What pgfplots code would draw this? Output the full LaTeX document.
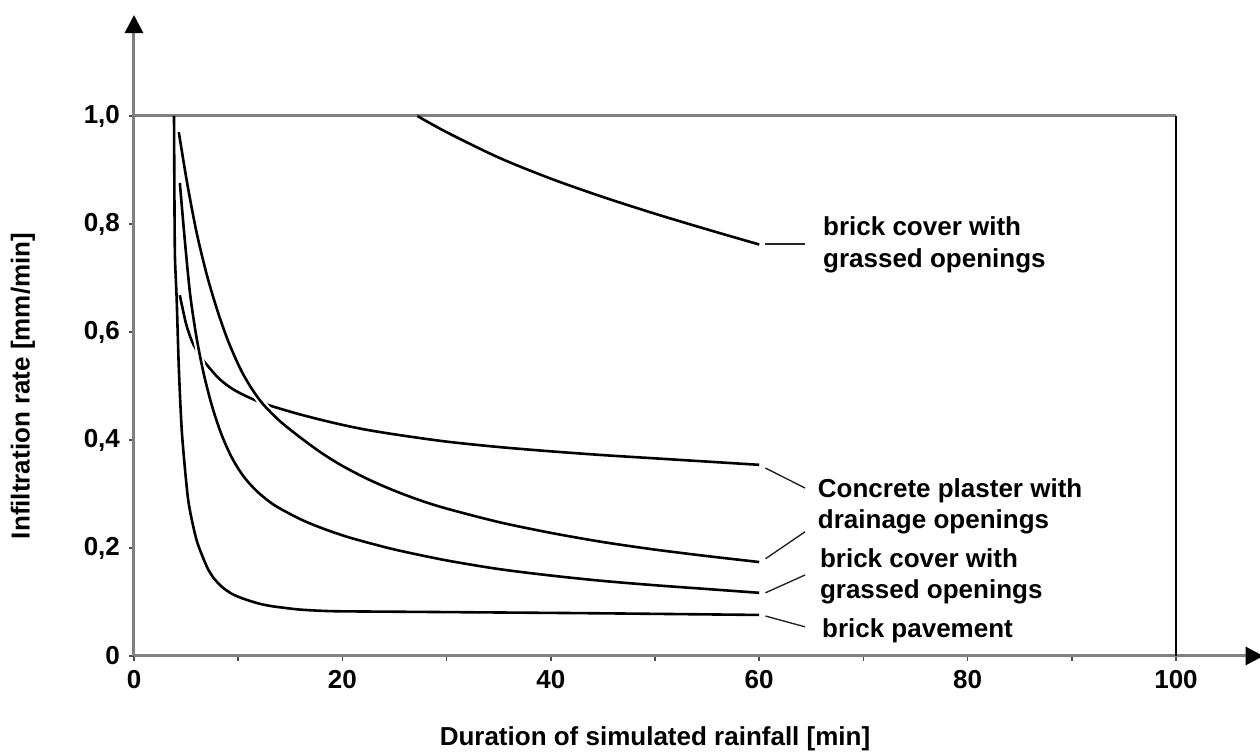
\documentclass[border=0pt]{standalone}
\usepackage{fontspec}
\setmainfont{Liberation Sans}
\usepackage{pgfplots}
\pgfplotsset{compat=1.18}
\usetikzlibrary{arrows.meta}
\definecolor{axgray}{RGB}{128,128,128}
\newcommand{\lblfont}{\fontsize{13}{15.6}\selectfont\bfseries}
\begin{document}
\lblfont
\begin{tikzpicture}
\useasboundingbox (-67pt,-48.5pt) rectangle (563pt,328pt);
\begin{axis}[
  anchor=origin, at={(0pt,0pt)},
  x=5.21pt, y=270pt,
  xmin=0, xmax=108.4, ymin=0, ymax=1.187,
  axis x line=bottom, axis y line=left,
  axis line style={draw=axgray, line width=1.5pt, -{Triangle[width=9pt,length=9pt,color=black]}},
  clip=false,
  tick align=outside,
  major tick length=2.5pt, minor tick length=2.5pt,
  tick style={draw=black!70, line width=0.8pt},
  xtick={0,20,40,60,80,100},
  xticklabels={0,20,40,60,80,100},
  minor xtick={10,30,50,70,90},
  ytick={0,0.2,0.4,0.6,0.8,1.0},
  yticklabels={0,{0,2},{0,4},{0,6},{0,8},{1,0}},
  tick label style={font=\lblfont},
  every axis plot/.append style={black, line width=1.3pt},
]
% frame lines
\addplot[draw=axgray, line width=1.5pt] coordinates {(0,1) (100,1)};
\addplot[draw=black, line width=1pt] coordinates {(100,1) (100,0)};

% Concrete plaster with drainage openings
\addplot[smooth, tension=0.5] coordinates {
(4.4,0.668) (5.0,0.615) (5.6,0.581) (6.3,0.557) (7.0,0.539) (8.2,0.513) (9.5,0.494)
(11,0.479) (12.4,0.468) (13.5,0.461) (16,0.447) (19.1,0.432) (22,0.420)
(25.5,0.409) (30,0.397) (35,0.387) (40,0.379) (45,0.372) (50,0.366)
(55,0.360) (60,0.354)};

% curve ending at 0.174
\addplot[smooth, tension=0.5, preaction={draw=white, line width=3.5pt}] coordinates {
(4.3,0.970) (5.1,0.876) (6.0,0.785) (7.0,0.705) (8.0,0.640) (9.0,0.585)
(10.2,0.532) (11.3,0.495) (12.4,0.466) (14,0.435) (16,0.404) (18,0.376)
(20,0.352) (22.5,0.327) (25,0.306) (27.5,0.288) (30,0.273) (35,0.248)
(40,0.228) (45,0.211) (50,0.197) (55,0.185) (60,0.174)};

% brick cover with grassed openings (lower)
\addplot[smooth, tension=0.5, preaction={draw=white, line width=3.5pt}] coordinates {
(4.4,0.876) (4.9,0.765) (5.4,0.668) (6.0,0.590) (6.7,0.522) (7.5,0.462)
(8.4,0.410) (9.4,0.367) (10.5,0.333) (11.8,0.305) (13.5,0.279) (15.9,0.254)
(18,0.237) (20.4,0.221) (23,0.207) (25.5,0.195) (30,0.177) (35,0.161)
(40,0.149) (45,0.139) (50,0.131) (55,0.124) (60,0.117)};

% brick pavement
\addplot[smooth, tension=0.4] coordinates {
(3.84,1.0) (3.88,0.85) (3.93,0.739) (4.1,0.659) (4.3,0.535) (4.6,0.413)
(5.2,0.289) (6.0,0.215) (7.0,0.165) (7.7,0.143) (8.5,0.127) (9.4,0.115)
(10.5,0.106) (12,0.097) (13.3,0.092) (15.9,0.086) (19,0.083) (25,0.082)
(32,0.081) (45,0.079) (60,0.076)};

% brick cover with grassed openings (top)
\addplot[smooth, tension=0.5] coordinates {
(27.2,1.0) (30,0.970) (35,0.923) (40,0.884) (45,0.850) (50,0.819)
(55,0.790) (60,0.762)};

% pointer lines
\addplot[black!85, line width=0.7pt] coordinates {(60.6,0.763) (64.4,0.763)};
\addplot[black!85, line width=0.7pt] coordinates {(60.6,0.348) (64.4,0.311)};
\addplot[black!85, line width=0.7pt] coordinates {(60.6,0.180) (64.4,0.230)};
\addplot[black!85, line width=0.7pt] coordinates {(60.6,0.117) (64.4,0.150)};
\addplot[black!85, line width=0.7pt] coordinates {(60.6,0.074) (64.4,0.054)};

% labels
\node[anchor=base west, inner sep=0pt] at (axis cs:66.1,0.778) {brick cover with};
\node[anchor=base west, inner sep=0pt] at (axis cs:66.1,0.7185) {grassed openings};
\node[anchor=base west, inner sep=0pt] at (axis cs:65.6,0.2926) {Concrete plaster with};
\node[anchor=base west, inner sep=0pt] at (axis cs:65.6,0.237) {drainage openings};
\node[anchor=base west, inner sep=0pt] at (axis cs:65.8,0.163) {brick cover with};
\node[anchor=base west, inner sep=0pt] at (axis cs:65.8,0.1056) {grassed openings};
\node[anchor=base west, inner sep=0pt] at (axis cs:66.0,0.035) {brick pavement};

% axis titles
\node[rotate=90, anchor=center, inner sep=0pt] at (axis cs:-10.65,0.5) {Infiltration rate [mm/min]};
\node[anchor=base, inner sep=0pt] at (axis cs:50,-0.165) {Duration of simulated rainfall [min]};
\end{axis}
\end{tikzpicture}
\end{document}
